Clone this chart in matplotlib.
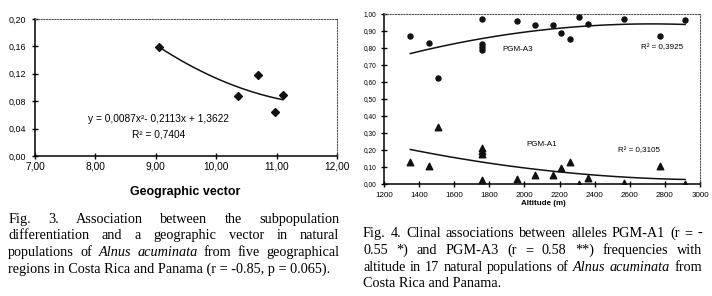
import numpy as np
import matplotlib
matplotlib.use("Agg")
import matplotlib.pyplot as plt

# ---------------- data ----------------
geo_x = [9.06, 10.36, 10.685, 10.98, 11.105]
geo_y = [0.1595, 0.087, 0.118, 0.064, 0.089]
geo_xticks = [7, 8, 9, 10, 11, 12]
geo_yticks = [0.00, 0.04, 0.08, 0.12, 0.16, 0.20]
geo_eq = "y = 0,0087x²- 0,2113x + 1,3622"
geo_r2 = "R² = 0,7404"

alt = [1350, 1455, 1505, 1758, 1758, 1758, 1758, 1960, 2062, 2160, 2210,
       2262, 2312, 2362, 2565, 2770, 2915]
pgm_a3 = [0.872, 0.828, 0.622, 0.969, 0.824, 0.804, 0.786, 0.959, 0.935,
          0.935, 0.886, 0.851, 0.984, 0.941, 0.969, 0.872, 0.965]
pgm_a1 = [0.128, 0.108, 0.333, 0.024, 0.176, 0.192, 0.210, 0.029, 0.053,
          0.053, 0.096, 0.131, 0.000, 0.037, 0.008, 0.108, 0.000]
alt_xticks = list(range(1200, 3001, 200))
alt_yticks = [i / 10 for i in range(11)]

cap3 = [
    ["Fig.", "3.", "Association", "between", "the", "subpopulation"],
    ["differentiation", "and", "a", "geographic", "vector", "in", "natural"],
    ["populations", "of", ("Alnus", "italic"), ("acuminata", "italic"), "from", "five", "geographical"],
]
cap3_last = "regions in Costa Rica and Panama (r = -0.85, p = 0.065)."
cap4 = [
    ["Fig.", "4.", "Clinal", "associations", "between", "alleles", "PGM-A1", "(r", "=", "-"],
    ["0.55", "*)", "and", "PGM-A3", "(r", "=", "0.58", "**)", "frequencies", "with"],
    ["altitude", "in", "17", "natural", "populations", "of", ("Alnus", "italic"), ("acuminata", "italic"), "from"],
]
cap4_last = "Costa Rica and Panama."

W, H = 712, 296
fig = plt.figure(figsize=(W / 100, H / 100), dpi=100)
SANS = "Liberation Sans"
SERIF = "Liberation Serif"


def ax_rect(l, r, t, b):
    return [l / W, 1 - b / H, (r - l) / W, (b - t) / H]


def style_axes(ax):
    for s in ("top", "right"):
        ax.spines[s].set_linestyle((0, (1, 1.5)))
        ax.spines[s].set_color("#555555")
        ax.spines[s].set_linewidth(0.8)
    for s in ("left", "bottom"):
        ax.spines[s].set_color("black")
        ax.spines[s].set_linewidth(1.1)


# ---------------- left chart ----------------
axL = fig.add_axes(ax_rect(35, 337, 19, 156))
axL.scatter(geo_x, geo_y, marker="D", s=16, color="#111111", zorder=3)
c = np.polyfit(geo_x, geo_y, 2)
xx = np.linspace(min(geo_x), max(geo_x), 100)
axL.plot(xx, np.polyval(c, xx), color="#111111", lw=1.1)
axL.set_xlim(7, 12)
axL.set_ylim(0, 0.20)
axL.set_xticks(geo_xticks)
axL.set_xticklabels([f"{v:.2f}".replace(".", ",") for v in geo_xticks],
                    fontsize=7.3, family=SANS)
axL.set_yticks(geo_yticks)
axL.set_yticklabels([f"{v:.2f}".replace(".", ",") for v in geo_yticks],
                    fontsize=6.4, family=SANS)
axL.tick_params(axis="both", direction="inout", length=5, width=1, color="black")
axL.tick_params(axis="y", pad=4)
axL.tick_params(axis="x", pad=1.5)
style_axes(axL)
axL.set_xlabel("Geographic vector", fontsize=9, fontweight="bold", family=SANS, va="center")
axL.xaxis.set_label_coords((185 - 35) / 302, (156 - 192) / 137)
axL.text(9.04, 0.054, geo_eq, fontsize=7.3, family=SANS, ha="center", va="center")
axL.text(9.04, 0.0317, geo_r2, fontsize=7.3, family=SANS, ha="center", va="center")

# ---------------- right chart ----------------
axR = fig.add_axes(ax_rect(384, 700, 14, 184))
axR.scatter(alt, pgm_a3, marker="o", s=13, color="#111111", zorder=3)
axR.scatter(alt, pgm_a1, marker="^", s=22, color="#111111", zorder=3)
xa = np.linspace(min(alt), max(alt), 100)
c3 = np.polyfit(alt, pgm_a3, 2)
c1 = np.polyfit(alt, pgm_a1, 2)
axR.plot(xa, np.polyval(c3, xa), color="#111111", lw=1.1)
axR.plot(xa, np.polyval(c1, xa), color="#111111", lw=1.1)
axR.set_xlim(1200, 3000)
axR.set_ylim(0, 1.0)
axR.set_xticks(alt_xticks)
axR.set_xticklabels([str(v) for v in alt_xticks], fontsize=5.8, family=SANS)
axR.set_yticks(alt_yticks)
axR.set_yticklabels([f"{v:.2f}".replace(".", ",") for v in alt_yticks],
                    fontsize=4.8, family=SANS)
axR.tick_params(axis="both", direction="inout", length=5, width=1, color="black")
axR.tick_params(axis="y", pad=3)
axR.tick_params(axis="x", pad=3)
style_axes(axR)
axR.set_xlabel("Altitude (m)", fontsize=5.8, fontweight="bold", family=SANS, va="center")
axR.xaxis.set_label_coords((543 - 384) / 316, (184 - 203.3) / 170)
axR.text(1872, 0.792, "PGM-A3", fontsize=5.8, family=SANS, ha="left", va="center")
axR.text(2784, 0.802, "R² = 0,3925", fontsize=5.8, family=SANS, ha="center", va="center")
axR.text(2012, 0.235, "PGM-A1", fontsize=5.8, family=SANS, ha="left", va="center")
axR.text(2653, 0.194, "R² = 0,3105", fontsize=5.8, family=SANS, ha="center", va="center")

# ---------------- captions ----------------
renderer = fig.canvas.get_renderer()


def justified_line(words, x0, x1, y, size):
    arts = []
    widths = []
    for w in words:
        if isinstance(w, tuple):
            txt, st = w
        else:
            txt, st = w, "normal"
        t = fig.text(0, 1 - y / H, txt, fontsize=size, family=SERIF, style=st,
                     ha="left", va="baseline")
        bb = t.get_window_extent(renderer)
        arts.append(t)
        widths.append(bb.width)
    gap = (x1 - x0 - sum(widths)) / (len(words) - 1)
    x = x0
    for t, wd in zip(arts, widths):
        t.set_x(x / W)
        x += wd + gap


def caption(lines, last, x0, x1, y0, dy, size):
    for i, words in enumerate(lines):
        justified_line(words, x0, x1, y0 + i * dy, size)
    fig.text(x0 / W, 1 - (y0 + len(lines) * dy) / H, last, fontsize=size,
             family=SERIF, ha="left", va="baseline")


caption(cap3, cap3_last, 8.3, 339, 222.7, 16.7, 10.3)
caption(cap4, cap4_last, 363, 702, 237.3, 16.7, 10.3)

fig.savefig("out.png", dpi=100)
